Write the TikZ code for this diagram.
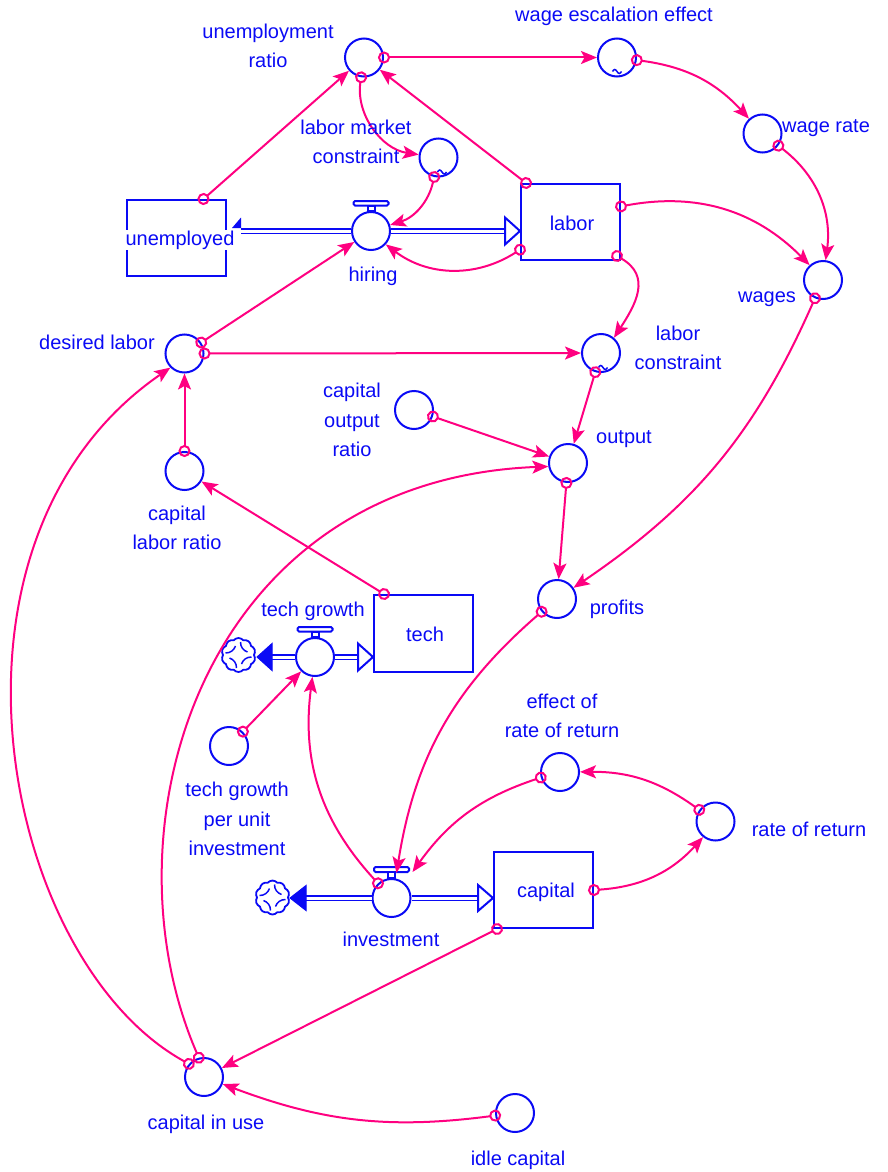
\documentclass[tikz,border=0pt]{standalone}
\usepackage{fontspec}
\setmainfont{Liberation Sans}
\usetikzlibrary{arrows.meta,calc,shapes.symbols}
\definecolor{bl}{RGB}{10,10,245}
\definecolor{pk}{RGB}{255,0,128}
\begin{document}
\begin{tikzpicture}[x=1pt,y=-1pt,
  conv/.style={circle,draw=bl,line width=2pt,minimum size=38pt,inner sep=0pt,fill=white},
  stock/.style={rectangle,draw=bl,line width=2pt,minimum width=99pt,minimum height=76pt,inner sep=0pt},
  lab/.style={text=bl,font=\fontsize{20}{29.5}\selectfont,align=center,inner sep=0pt},
  lab1/.style={lab,text height=14.6pt,text depth=4.2pt},
  link/.style={draw=pk,line width=2pt,{Circle[open,length=12pt,width=12pt]}-{Stealth[length=16pt,width=13pt,inset=3.5pt]},shorten <=-6pt},
  pipe/.style={draw=bl,line width=1.6pt,double=white,double distance=3pt},
  hollowhead/.style={draw=bl,line width=2pt,fill=white,line join=miter},
  fillhead/.style={draw=bl,line width=1pt,fill=bl},
  handle/.style={draw=bl,line width=2pt,fill=white,rounded corners=1.5pt},
  cloudy/.style={cloud,cloud puffs=10,cloud puff arc=100,aspect=1,draw=bl,line width=1.8pt,minimum width=34pt,minimum height=34pt,inner sep=0pt},
  swirl/.style={draw=bl,line width=1.5pt},
  tld/.style={draw=bl,line width=1.5pt}
]
\useasboundingbox (0,0) rectangle (887,1172);

% ---------- stocks ----------
\node[stock] (unemp) at (176.5,238) {};
\node[stock] (labor) at (570.5,222) {};
\node[stock,minimum height=77pt] (tech) at (423.5,633.5) {};
\node[stock] (capital) at (543.5,890) {};

% ---------- converters ----------
\node[conv] (ur) at (364,57.5) {};
\node[conv] (wee) at (617,57.5) {};
\node[conv] (wr) at (762.5,133.5) {};
\node[conv] (lmc) at (438.5,157.5) {};
\node[conv] (wages) at (823,280) {};
\node[conv] (dl) at (184.5,353.5) {};
\node[conv] (lc) at (601,353) {};
\node[conv] (cor) at (414,410) {};
\node[conv] (output) at (568,463) {};
\node[conv] (clr) at (184.5,471) {};
\node[conv] (profits) at (557,599) {};
\node[conv] (tgpu) at (229,746) {};
\node[conv] (err) at (560,772) {};
\node[conv] (ror) at (715.5,821.5) {};
\node[conv] (ciu) at (204,1077) {};
\node[conv] (idle) at (515,1113) {};

% tilde marks (graphical converters)
\draw[tld] ($(wee)+(-4.5,14)$) sin ++(2.25,-2) cos ++(2.25,2) sin ++(2.25,2) cos ++(2.25,-2);
\draw[tld] ($(lmc)+(-1,14.5)$) sin ++(2.25,-2) cos ++(2.25,2) sin ++(2.25,2) cos ++(2.25,-2);
\draw[tld] ($(lc)+(-2.5,14.5)$) sin ++(2.25,-2) cos ++(2.25,2) sin ++(2.25,2) cos ++(2.25,-2);

% ---------- valves ----------
\node[conv] (hiring) at (371,231) {};
\node[conv] (tg) at (315,657) {};
\node[conv] (inv) at (391.5,898) {};
\foreach \v/\a/\b in {hiring/10/5.5,tg/10/5.5,inv/11/6}{
  \draw[handle] ($(\v.north)+(-17.5,-\a)$) rectangle ($(\v.north)+(17.5,-\b)$);
  \draw[handle,rounded corners=0pt] ($(\v.north)+(-3.5,-\b)$) rectangle ($(\v.north)+(3.5,0)$);
}

% ---------- clouds ----------
\node[cloudy] (cl1) at (238.5,655) {};
\node[cloudy] (cl2) at (272.5,897.5) {};
\foreach \c in {cl1,cl2}{
  \begin{scope}[shift={(\c.center)}]
    \foreach \r in {0,90,180,270}{
      \draw[swirl,rotate=\r] (-13,-2) to[bend right=35] (-3,-9);
    }
  \end{scope}
}

% ---------- flows ----------
% hiring: unemployed -> labor
\coordinate (hA) at ($(unemp.east |- hiring)+(14,0)$);
\coordinate (hB) at (labor.west |- hiring);
\draw[pipe] (hA) -- (hiring.west);
\draw[pipe] (hiring.east) -- ($(hB)+(-15,0)$);
\draw[hollowhead] (hB) -- ++(-15,-13.5) -- ++(0,27) -- cycle;
\fill[bl] ($(hA)+(-9,-3)$) -- ($(hA)+(0,-3)$) -- ($(hA)+(0,-13.5)$) -- cycle;

% tech growth: cloud -> tech
\coordinate (tA) at ($(cl1.east |- tg)+(2,0)$);
\coordinate (tB) at (tech.west |- tg);
\draw[pipe] ($(tA)+(15,0)$) -- (tg.west);
\draw[pipe] (tg.east) -- ($(tB)+(-15,0)$);
\draw[fillhead] (tA) -- ++(15,-13.5) -- ++(0,27) -- cycle;
\draw[hollowhead] (tB) -- ++(-15,-13.5) -- ++(0,27) -- cycle;

% investment: cloud -> capital
\coordinate (iA) at ($(cl2.east |- inv)+(1,0)$);
\coordinate (iB) at (capital.west |- inv);
\draw[pipe] ($(iA)+(16,0)$) -- (inv.west);
\draw[pipe] (inv.east) -- ($(iB)+(-15,0)$);
\draw[fillhead] (iA) -- ++(16,-12.5) -- ++(0,25) -- cycle;
\draw[hollowhead] (iB) -- ++(-15,-13) -- ++(0,26) -- cycle;

% ---------- connectors ----------
\draw[link] ([xshift=27pt]unemp.north) -- (ur);
\draw[link] (ur) -- (wee);
\draw[link] (wee) to[bend left=20] (wr);
\draw[link] (wr) to[bend left=30] (wages);
\draw[link] ($(labor.north east)!0.3!(labor.south east)$) to[bend left=28] (wages);
\draw[link] (ur) to[bend right=45] (lmc);
\draw[link] (lmc) to[bend left=30] (hiring);
\draw[link] ([xshift=6pt]labor.north west) -- (ur);
\draw[link] ($(labor.north west)!0.855!(labor.south west)$) to[bend left=35] (hiring);
\draw[link] (dl) -- (hiring);
\draw[link] (dl) -- (lc);
\draw[link] ($(labor.south east)+(-4,-5)$) to[relative,out=62,in=149,looseness=1.25] (lc);
\draw[link] (lc) -- (output);
\draw[link] (cor) -- (output);
\draw[link] (output) -- (profits);
\draw[link] (wages) to[bend left=16] (profits);
\draw[link] (clr) -- (dl);
\draw[link] ([xshift=11pt]tech.north west) -- (clr);
\draw[link] (ciu.139) .. controls (0,960) and (-80,540) .. (dl.225);
\draw[link] (ciu.105) .. controls (100,830) and (200,480) .. (output.190);
\draw[link] (tgpu) -- (tg);
\draw[link] (inv) to[bend left=25] (tg);
\draw[link] (profits) to[bend right=20] ($(inv)+(5,-25)$);
\draw[link] (err) to[bend right=18] ($(inv)+(21,-26)$);
\draw[link] (ror) to[bend right=18] (err);
\draw[link] (capital.east) to[bend right=22] (ror);
\draw[link] ([xshift=4pt]capital.south west) -- (ciu);
\draw[link] (idle) to[bend left=14] (ciu);

% ---------- labels ----------
\node[lab] (t-ur) at (268,46) {unemployment\\ratio};
\node[lab1] (t-wee) at (614,16) {wage escalation effect};
\node[lab1] (t-wr) at (826,127) {wage rate};
\node[lab] (t-lmc) at (356,142) {labor market\\constraint};
\node[lab1] (t-hiring) at (373,276) {hiring};
\node[lab1,fill=white,inner sep=1pt] (t-unemp) at (180,240) {unemployed};
\node[lab1] (t-labor) at (572,225) {labor};
\node[lab1] (t-wages) at (767,297) {wages};
\node[lab1] (t-dl) at (97,344) {desired labor};
\node[lab] (t-lc) at (678,348) {labor\\constraint};
\node[lab] (t-cor) at (352,420) {capital\\output\\ratio};
\node[lab1] (t-output) at (624,438) {output};
\node[lab] (t-clr) at (177,528) {capital\\labor ratio};
\node[lab1] (t-profits) at (617,609) {profits};
\node[lab1] (t-tg) at (313,611) {tech growth};
\node[lab1] (t-tech) at (425,636) {tech};
\node[lab] (t-tgpu) at (237,819) {tech growth\\per unit\\investment};
\node[lab] (t-err) at (562,716) {effect of\\rate of return};
\node[lab1] (t-ror) at (809,831) {rate of return};
\node[lab1] (t-capital) at (546,892) {capital};
\node[lab1] (t-inv) at (391,941) {investment};
\node[lab1] (t-ciu) at (206,1124) {capital in use};
\node[lab1] (t-idle) at (518,1160) {idle capital};
\end{tikzpicture}
\end{document}
